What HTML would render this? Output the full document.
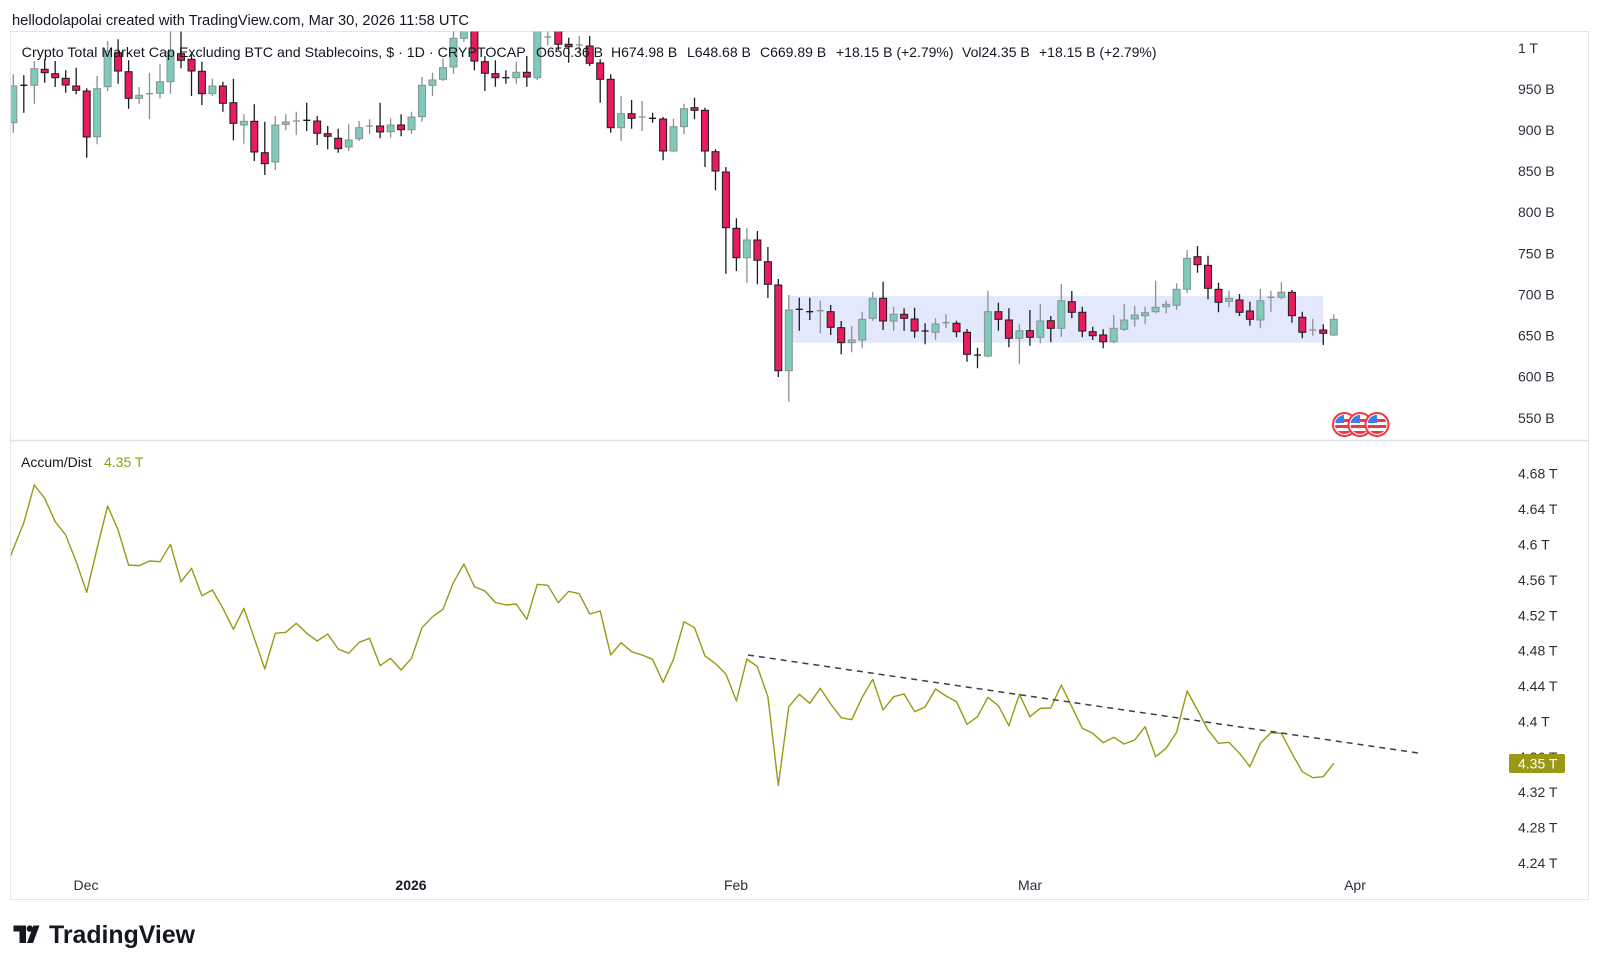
<!DOCTYPE html>
<html>
<head>
<meta charset="utf-8">
<style>
  html,body{margin:0;padding:0;background:#fff;}
  body{width:1600px;height:969px;overflow:hidden;}
  svg{display:block;font-family:"Liberation Sans",Arial,sans-serif;}
  .uw{stroke:#8b9094;stroke-width:1.3;fill:none;}
  .dw{stroke:#1c1c1c;stroke-width:1.3;fill:none;}
  .u rect{fill:#7ecabb;stroke:#8b9094;stroke-width:1;}
  .d rect{fill:#ea1b5c;stroke:#1c1c1c;stroke-width:1;}
  .ax{font-size:14px;fill:#2a2e39;}
</style>
</head>
<body>
<svg width="1600" height="969" viewBox="0 0 1600 969" xmlns="http://www.w3.org/2000/svg">
<defs>
  <clipPath id="cu"><rect x="11" y="31.5" width="1490" height="408.5"/></clipPath>
  <clipPath id="cl"><rect x="11" y="441" width="1490" height="430"/></clipPath>
  <clipPath id="fc1"><circle cx="1344.5" cy="424.5" r="9.5"/></clipPath>
  <clipPath id="fc2"><circle cx="1360" cy="424.5" r="9.5"/></clipPath>
  <clipPath id="fc3"><circle cx="1377" cy="424.5" r="9.5"/></clipPath>
</defs>
<rect width="1600" height="969" fill="#fff"/>

<!-- header -->
<text x="12" y="25" font-size="14.4" fill="#131722" textLength="457" lengthAdjust="spacingAndGlyphs">hellodolapolai created with TradingView.com, Mar 30, 2026 11:58 UTC</text>

<!-- frame -->
<rect x="10.5" y="31.5" width="1578" height="868" fill="none" stroke="#e3e5ea" stroke-width="1"/>
<line x1="11" y1="440.5" x2="1588" y2="440.5" stroke="#dfe1e6" stroke-width="1.5"/>

<!-- upper pane -->
<g clip-path="url(#cu)">
  <rect x="789" y="296" width="534" height="46.7" fill="#e3e8fc"/>
  <path class="uw" d="M13.3 74.3V132.7M34.3 61V103.7M97.1 76V144.3M107.6 41V91M139.1 87V103.7M160 64.3V98.3M170.5 31V93.7M212.4 78.7V96M243.9 114.3V143.7M275.3 116V170M285.8 114.3V130.3M348.7 124.3V151M359.1 121V141M390.6 118.3V137.7M411.5 111.7V133.7M422 77V121.7M432.5 72.7V96M443 58.3V81M453.5 28V73.7M463.9 28V42M516.3 61.7V83.7M537.3 28V80M621.1 96V141M673.5 118.7V151.7M684 103.7V134.3M746.9 227.7V282.7M788.8 295V401.7M851.7 326V352.3M862.2 311.7V348.3M872.7 291.7V320.7M893.6 306.7V330.7M935.5 318.3V340M987.9 290.7V357.3M1019.4 324.3V364.3M1040.3 304V343.3M1061.3 284V336.7M1113.7 315V343.3M1124.2 304.3V331M1134.7 305.7V326.7M1145.1 306.7V324.3M1155.6 280.7V313.3M1166.1 300.7V313.3M1176.6 283.3V310M1187.1 250V293.3M1229 290.7V307.3M1260.4 289V328.3M1281.4 282.3V299.3M1333.8 314.3V336
  M149.5 72.7V119.3M146 93.7H153M296.3 111.7V135M292.8 121H299.8M369.6 119.3V134.3M366.1 126H373.1M547.8 28V45M544.3 37H551.3M579.2 36V54.3M575.7 45H582.7M642.1 101V131M638.6 117H645.6M820.3 300.7V333.3M816.8 310.7H823.8M946 314.3V328.3M942.5 322.7H949.5M1270.9 290.7V311.7M1267.4 297.3H1274.4M1312.8 319V335.7M1309.3 330H1316.3"/>
  <path class="dw" d="M44.7 59.3V82.7M55.2 61V87M65.7 70.3V92.7M76.2 67.7V94.3M86.7 88.3V157.7M118.1 39.3V83.7M128.6 60.3V108.7M181 31V68.3M191.5 54.3V96M201.9 61.7V105M222.9 81.7V111.7M233.4 78.7V140.3M254.3 104.3V161M264.8 121.7V175M317.2 116V145M327.7 126V149.3M338.2 128.7V152.7M380.1 102.7V138.3M401.1 114.3V136.3M474.4 28V70.3M484.9 56V91M495.4 60.3V86.7M526.8 56V86.7M558.3 28V50M568.7 37.7V62.7M589.7 36V66M600.2 59.3V102.7M610.7 74.3V132.7M631.6 100V128.7M663.1 117V160.3M694.5 97.7V119.3M705 107.7V167M715.5 149.3V190.3M725.9 167V273.7M736.4 218.3V271M757.4 231V284.3M767.9 247V298M778.3 279V377M830.7 305V335M841.2 321V354.3M883.1 281.7V330M904.1 308.3V330.7M914.6 307.7V337.7M956.5 320.7V337.3M967 329V361.7M998.4 302.7V330.7M1008.9 308.3V347.3M1029.9 310V345.7M1050.8 316V342.3M1071.8 291V318.3M1082.3 306.7V337.3M1092.7 326.7V340M1103.2 329.3V348.3M1197.5 246V272.7M1208 255.7V299.3M1218.5 282.7V312.3M1239.5 294V316M1249.9 301.7V325.7M1291.9 290V322.7M1302.3 311.7V338.3M1323.3 324.3V345
  M23.8 75.3V112.7M20.3 85.3H27.3M306.7 102.7V131M303.2 120.3H310.2M505.9 70.3V83.7M502.4 77.7H509.4M652.6 112.7V122.7M649.1 118.3H656.1M799.3 297.7V330.7M795.8 309.3H802.8M809.8 297.7V320M806.3 311.7H813.3M925.1 323.3V344.3M921.6 331H928.6M977.5 347.7V368.3M974 355H981"/>
  <g class="u">
    <rect x="9.8" y="86" width="7" height="36.7"/>
    <rect x="30.8" y="68.7" width="7" height="16.6"/>
    <rect x="93.6" y="88.7" width="7" height="48"/>
    <rect x="104.1" y="51" width="7" height="35.7"/>
    <rect x="135.6" y="95.3" width="7" height="3"/>
    <rect x="156.5" y="81.7" width="7" height="11.6"/>
    <rect x="167" y="51.7" width="7" height="30"/>
    <rect x="208.9" y="86" width="7" height="7.7"/>
    <rect x="240.4" y="121.3" width="7" height="3.7"/>
    <rect x="271.8" y="125" width="7" height="37"/>
    <rect x="282.3" y="122" width="7" height="2.3"/>
    <rect x="345.2" y="140" width="7" height="7"/>
    <rect x="355.6" y="127.7" width="7" height="11"/>
    <rect x="387.1" y="125" width="7" height="6.7"/>
    <rect x="408" y="117" width="7" height="12.7"/>
    <rect x="418.5" y="85.3" width="7" height="31.4"/>
    <rect x="429" y="80" width="7" height="5.3"/>
    <rect x="439.5" y="67.7" width="7" height="11.6"/>
    <rect x="450" y="38.3" width="7" height="28.7"/>
    <rect x="460.4" y="28" width="7" height="10.3"/>
    <rect x="512.8" y="72.3" width="7" height="5.4"/>
    <rect x="533.8" y="28" width="7" height="49.7"/>
    <rect x="617.6" y="113.7" width="7" height="14"/>
    <rect x="670" y="126.7" width="7" height="24.3"/>
    <rect x="680.5" y="108.7" width="7" height="18"/>
    <rect x="743.4" y="240" width="7" height="17.7"/>
    <rect x="785.3" y="310" width="7" height="60.7"/>
    <rect x="848.2" y="340" width="7" height="2.7"/>
    <rect x="858.7" y="319.3" width="7" height="20.7"/>
    <rect x="869.2" y="298.3" width="7" height="20"/>
    <rect x="890.1" y="314.3" width="7" height="6.7"/>
    <rect x="932" y="324" width="7" height="8.3"/>
    <rect x="984.4" y="311.7" width="7" height="44.3"/>
    <rect x="1015.9" y="330.7" width="7" height="7.6"/>
    <rect x="1036.8" y="321" width="7" height="16.3"/>
    <rect x="1057.8" y="300.7" width="7" height="27.6"/>
    <rect x="1110.2" y="328.3" width="7" height="13.4"/>
    <rect x="1120.7" y="320" width="7" height="9.3"/>
    <rect x="1131.2" y="315" width="7" height="4"/>
    <rect x="1141.6" y="312.7" width="7" height="3"/>
    <rect x="1152.1" y="307.3" width="7" height="4.4"/>
    <rect x="1162.6" y="304.3" width="7" height="2.4"/>
    <rect x="1173.1" y="289.3" width="7" height="16"/>
    <rect x="1183.6" y="258.3" width="7" height="31"/>
    <rect x="1225.5" y="298.3" width="7" height="3"/>
    <rect x="1256.9" y="300.7" width="7" height="19.3"/>
    <rect x="1277.9" y="292.3" width="7" height="5"/>
    <rect x="1330.3" y="319.3" width="7" height="15.7"/>
  </g>
  <g class="d">
    <rect x="41.2" y="69.3" width="7" height="3.4"/>
    <rect x="51.7" y="73.7" width="7" height="4"/>
    <rect x="62.2" y="78.3" width="7" height="6.7"/>
    <rect x="72.7" y="86" width="7" height="4.3"/>
    <rect x="83.2" y="91" width="7" height="46"/>
    <rect x="114.6" y="52.7" width="7" height="18.3"/>
    <rect x="125.1" y="71.7" width="7" height="26.6"/>
    <rect x="177.5" y="53.7" width="7" height="6.6"/>
    <rect x="188" y="59.3" width="7" height="11.7"/>
    <rect x="198.4" y="71.3" width="7" height="22.4"/>
    <rect x="219.4" y="86" width="7" height="17.3"/>
    <rect x="229.9" y="102.7" width="7" height="20.6"/>
    <rect x="250.8" y="121.3" width="7" height="30.7"/>
    <rect x="261.3" y="152.7" width="7" height="11"/>
    <rect x="313.7" y="121" width="7" height="12.3"/>
    <rect x="324.2" y="133.7" width="7" height="2.6"/>
    <rect x="334.7" y="138.3" width="7" height="10.4"/>
    <rect x="376.6" y="126" width="7" height="6"/>
    <rect x="397.6" y="125" width="7" height="4.7"/>
    <rect x="470.9" y="28" width="7" height="33"/>
    <rect x="481.4" y="61.7" width="7" height="11.6"/>
    <rect x="491.9" y="73.7" width="7" height="4"/>
    <rect x="523.3" y="72.3" width="7" height="4.7"/>
    <rect x="554.8" y="28" width="7" height="16.3"/>
    <rect x="565.2" y="44.3" width="7" height="2.4"/>
    <rect x="586.2" y="46" width="7" height="17.3"/>
    <rect x="596.7" y="63" width="7" height="16.3"/>
    <rect x="607.2" y="79.3" width="7" height="48.4"/>
    <rect x="628.1" y="113.7" width="7" height="4.6"/>
    <rect x="659.6" y="119" width="7" height="32"/>
    <rect x="691" y="107.7" width="7" height="2.6"/>
    <rect x="701.5" y="110.3" width="7" height="40.7"/>
    <rect x="712" y="151.7" width="7" height="19.3"/>
    <rect x="722.4" y="172" width="7" height="55.7"/>
    <rect x="732.9" y="228.3" width="7" height="29.4"/>
    <rect x="753.9" y="240" width="7" height="20.3"/>
    <rect x="764.4" y="261.7" width="7" height="22.6"/>
    <rect x="774.8" y="285" width="7" height="85.7"/>
    <rect x="827.2" y="311.7" width="7" height="15.6"/>
    <rect x="837.7" y="327.7" width="7" height="15"/>
    <rect x="879.6" y="298.3" width="7" height="22.7"/>
    <rect x="900.6" y="314.3" width="7" height="4"/>
    <rect x="911.1" y="319" width="7" height="12"/>
    <rect x="953" y="323.3" width="7" height="8.4"/>
    <rect x="963.5" y="332.3" width="7" height="22"/>
    <rect x="994.9" y="311.7" width="7" height="7.6"/>
    <rect x="1005.4" y="320" width="7" height="18.3"/>
    <rect x="1026.4" y="330.7" width="7" height="6.6"/>
    <rect x="1047.3" y="320.7" width="7" height="7.6"/>
    <rect x="1068.3" y="301.7" width="7" height="10.6"/>
    <rect x="1078.8" y="312.3" width="7" height="18.7"/>
    <rect x="1089.2" y="331.7" width="7" height="4"/>
    <rect x="1099.7" y="335" width="7" height="6.7"/>
    <rect x="1194" y="256.7" width="7" height="8"/>
    <rect x="1204.5" y="265.3" width="7" height="23"/>
    <rect x="1215" y="289.3" width="7" height="13"/>
    <rect x="1236" y="300" width="7" height="12.3"/>
    <rect x="1246.4" y="311" width="7" height="8.3"/>
    <rect x="1288.4" y="292.3" width="7" height="23.4"/>
    <rect x="1298.8" y="317.3" width="7" height="15"/>
    <rect x="1319.8" y="330" width="7" height="3.3"/>
  </g>
</g>

<!-- event flags -->
<g>
  <circle cx="1344.5" cy="424.5" r="11.5" fill="#fff" stroke="#f23645" stroke-width="2"/>
  <g clip-path="url(#fc1)">
    <rect x="1334" y="414" width="21" height="21" fill="#fff"/>
    <rect x="1334" y="425" width="21" height="3" fill="#f23645"/>
    <rect x="1334" y="431" width="21" height="4" fill="#f23645"/>
    <rect x="1334" y="419" width="21" height="3" fill="#f23645"/>
    <rect x="1334" y="414" width="10" height="9" fill="#3d7ee8"/>
  </g>
  <circle cx="1360" cy="424.5" r="11.5" fill="#fff" stroke="#f23645" stroke-width="2"/>
  <g clip-path="url(#fc2)">
    <rect x="1350" y="414" width="21" height="21" fill="#fff"/>
    <rect x="1350" y="425" width="21" height="3" fill="#f23645"/>
    <rect x="1350" y="431" width="21" height="4" fill="#f23645"/>
    <rect x="1350" y="419" width="21" height="3" fill="#f23645"/>
    <rect x="1350" y="414" width="10" height="9" fill="#3d7ee8"/>
  </g>
  <circle cx="1377" cy="424.5" r="11.5" fill="#fff" stroke="#f23645" stroke-width="2"/>
  <g clip-path="url(#fc3)">
    <rect x="1367" y="414" width="21" height="21" fill="#fff"/>
    <rect x="1367" y="425" width="21" height="3" fill="#f23645"/>
    <rect x="1367" y="431" width="21" height="4" fill="#f23645"/>
    <rect x="1367" y="419" width="21" height="3" fill="#f23645"/>
    <rect x="1367" y="414" width="10" height="9" fill="#3d7ee8"/>
  </g>
</g>

<!-- legend upper -->
<g font-size="14" fill="#131722">
  <text x="21.7" y="57" textLength="504" lengthAdjust="spacingAndGlyphs">Crypto Total Market Cap Excluding BTC and Stablecoins, $ · 1D · CRYPTOCAP</text>
  <text x="536" y="57">O650.36 B</text>
  <text x="611" y="57">H674.98 B</text>
  <text x="687" y="57">L648.68 B</text>
  <text x="760" y="57">C669.89 B</text>
  <text x="836" y="57">+18.15 B (+2.79%)</text>
  <text x="962" y="57">Vol24.35 B</text>
  <text x="1039" y="57">+18.15 B (+2.79%)</text>
</g>

<!-- upper price axis -->
<g class="ax">
  <text x="1518" y="53">1 T</text>
  <text x="1518" y="94">950 B</text>
  <text x="1518" y="135">900 B</text>
  <text x="1518" y="176">850 B</text>
  <text x="1518" y="217">800 B</text>
  <text x="1518" y="258.5">750 B</text>
  <text x="1518" y="299.5">700 B</text>
  <text x="1518" y="340.5">650 B</text>
  <text x="1518" y="381.5">600 B</text>
  <text x="1518" y="423">550 B</text>
</g>

<!-- lower pane -->
<g clip-path="url(#cl)">
  <polyline fill="none" stroke="#999915" stroke-width="1.4" stroke-linejoin="round" points="3,575 13.3,549 23.8,522.7 34.3,485 44.7,498.3 55.2,521.7 65.7,535 76.2,561.7 86.7,592.3 97.1,548.3 107.6,506 118.1,530 128.6,565 139.1,565.7 149.5,561 160,561.7 170.5,544.3 181,581.7 191.5,568.3 201.9,595.7 212.4,590 222.9,608.3 233.4,629.3 243.9,608.3 254.3,638.3 264.8,669 275.3,633.3 285.8,632.3 296.3,623.3 306.7,633.3 317.2,641 327.7,634 338.2,649 348.7,653.3 359.1,642.3 369.6,638.3 380.1,665.7 390.6,658.3 401.1,670 411.5,658.3 422,627.7 432.5,616.7 443,609.3 453.5,582.3 463.9,564 474.4,586.7 484.9,591 495.4,602.5 505.9,605 516.3,604 526.8,619.3 537.3,584.3 547.8,585.3 558.3,602.7 568.7,591.3 579.2,593.7 589.7,614 600.2,611 610.7,655 621.1,642.7 631.6,651.7 642.1,655 652.6,659.3 663.1,682.3 673.5,659.3 684,621.7 694.5,627.7 705,656 715.5,663.7 725.9,674 736.4,701 746.9,659 757.4,666.7 767.9,696.7 778.3,785.3 788.8,706.7 799.3,694.3 809.8,703.3 820.3,688.3 830.7,704 841.2,717.7 851.7,719.7 862.2,697.3 872.7,679.3 883.1,710 893.6,696.7 904.1,694 914.6,711.7 925.1,707 935.5,689 946,696 956.5,701.7 967,724.3 977.5,716.7 987.9,697.3 998.4,705.7 1008.9,725.7 1019.4,694.3 1029.9,716.7 1040.3,708.3 1050.8,708 1061.3,685 1071.8,706.7 1082.3,728.3 1092.7,733.3 1103.2,742.7 1113.7,737.3 1124.2,744 1134.7,740 1145.1,726.7 1155.6,756.7 1166.1,748.3 1176.6,732.3 1187.1,691 1197.5,710 1208,730 1218.5,743.3 1229,742.3 1239.5,753.3 1249.9,766.7 1260.4,743.3 1270.9,732.7 1281.4,733.3 1291.9,753.3 1302.3,771.7 1312.8,777.7 1323.3,776.7 1333.8,763.3"/>
  <line x1="748" y1="655" x2="1418" y2="753" stroke="#3c3f47" stroke-width="1.5" stroke-dasharray="6,5"/>
</g>

<!-- lower legend -->
<text x="21" y="467" font-size="14" fill="#131722">Accum/Dist</text>
<text x="104" y="467" font-size="14" fill="#999915">4.35 T</text>

<!-- lower axis -->
<g class="ax">
  <text x="1518" y="478.7">4.68 T</text>
  <text x="1518" y="514.1">4.64 T</text>
  <text x="1518" y="549.5">4.6 T</text>
  <text x="1518" y="584.9">4.56 T</text>
  <text x="1518" y="620.3">4.52 T</text>
  <text x="1518" y="655.7">4.48 T</text>
  <text x="1518" y="691.1">4.44 T</text>
  <text x="1518" y="726.5">4.4 T</text>
  <text x="1518" y="761.8">4.36 T</text>
  <text x="1518" y="797.2">4.32 T</text>
  <text x="1518" y="832.6">4.28 T</text>
  <text x="1518" y="868">4.24 T</text>
</g>
<rect x="1509" y="754" width="56" height="19" rx="2" fill="#999915"/>
<text x="1518" y="768.5" font-size="14" fill="#ffffff">4.35 T</text>

<!-- time axis -->
<g class="ax" text-anchor="middle">
  <text x="86" y="890">Dec</text>
  <text x="411" y="890" font-weight="bold" fill="#131722">2026</text>
  <text x="736" y="890">Feb</text>
  <text x="1030" y="890">Mar</text>
  <text x="1355" y="890">Apr</text>
</g>

<!-- TradingView logo -->
<g fill="#131722">
  <path d="M13.5 925.5H26V943H19.5V931.5H13.5Z"/>
  <circle cx="29.8" cy="928.6" r="3.2"/>
  <path d="M33.5 925.5H39.5L33 943H27Z"/>
  <text x="49" y="943" font-size="25" font-weight="bold" textLength="146" lengthAdjust="spacingAndGlyphs">TradingView</text>
</g>
</svg>
</body>
</html>
